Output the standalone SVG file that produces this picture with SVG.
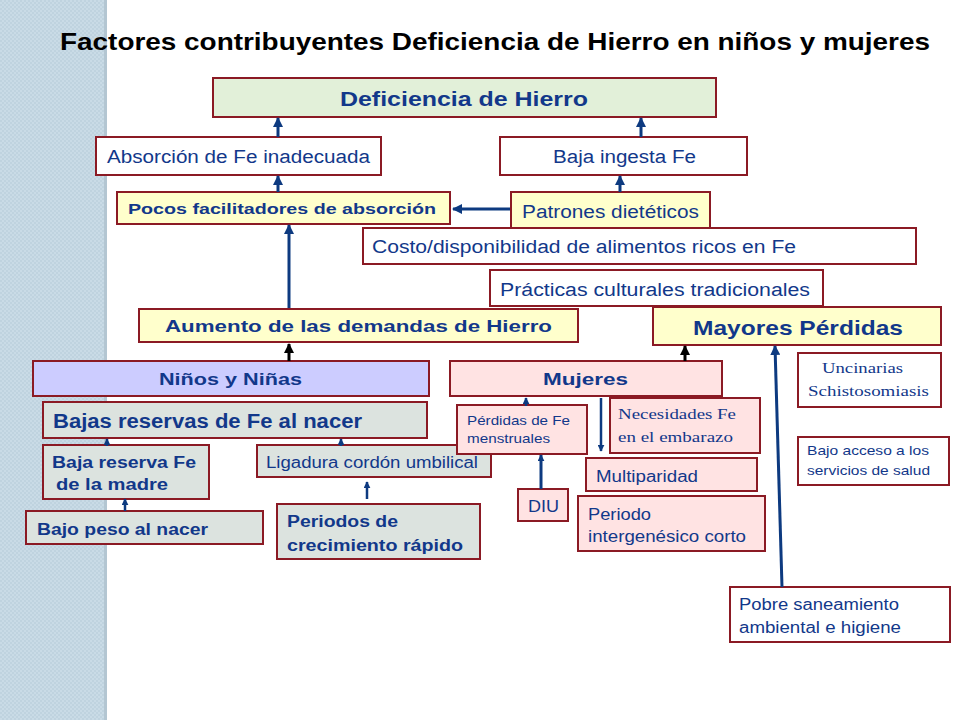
<svg xmlns="http://www.w3.org/2000/svg" width="960" height="720" viewBox="0 0 960 720">
<defs>
<pattern id="tex" width="4" height="4" patternUnits="userSpaceOnUse">
<rect width="4" height="4" fill="#c9dbe6"/>
<rect width="2" height="2" fill="#bfd3df"/>
<rect x="2" y="2" width="2" height="2" fill="#bfd3df"/>
</pattern>
<marker id="ab" viewBox="0 0 10 10" refX="9" refY="5" markerWidth="10" markerHeight="10" markerUnits="userSpaceOnUse" orient="auto">
<path d="M0,0 L10,5 L0,10 Z" fill="#0d3a80"/>
</marker>
<marker id="abs" viewBox="0 0 10 10" refX="9" refY="5" markerWidth="7" markerHeight="7" markerUnits="userSpaceOnUse" orient="auto">
<path d="M0,0 L10,5 L0,10 Z" fill="#0d3a80"/>
</marker>
<marker id="ak" viewBox="0 0 10 10" refX="9" refY="5" markerWidth="10" markerHeight="10" markerUnits="userSpaceOnUse" orient="auto">
<path d="M0,0 L10,5 L0,10 Z" fill="#000"/>
</marker>
<style>
.n{stroke:#8b1a24;stroke-width:2}
.t{fill:#12388a;font-family:"Liberation Sans",Arial,sans-serif}
.b{font-weight:bold}
.s{font-family:"Liberation Serif","Times New Roman",serif}
.w{fill:#ffffff}
.y{fill:#ffffcc}
.g{fill:#dce3df}
.p{fill:#ffe3e3}
.c{stroke:#0d3a80;stroke-width:3;fill:none}
.cs{stroke:#0d3a80;stroke-width:2.5;fill:none}
.ck{stroke:#000;stroke-width:3;fill:none}
</style>
</defs>
<rect width="960" height="720" fill="#ffffff"/>
<rect x="0" y="0" width="107" height="720" fill="url(#tex)"/>
<rect x="104" y="0" width="3" height="720" fill="#b3c6d2"/>
<text x="60" y="50" font-family="Liberation Sans,Arial,sans-serif" font-weight="bold" font-size="24" fill="#000" textLength="870" lengthAdjust="spacingAndGlyphs">Factores contribuyentes Deficiencia de Hierro en niños y mujeres</text>

<g id="n-deficiencia"><rect class="n" x="213" y="78" width="503" height="39" fill="#e2f0d9" stroke-width="3"/><text class="t b" x="340" y="106" font-size="21" textLength="248" lengthAdjust="spacingAndGlyphs">Deficiencia de Hierro</text></g>
<g id="n-absorcion"><rect class="n w" x="96" y="137" width="285" height="38"/><text class="t" x="107" y="163" font-size="18" textLength="263" lengthAdjust="spacingAndGlyphs">Absorción de Fe inadecuada</text></g>
<g id="n-baja-ingesta"><rect class="n w" x="500" y="137" width="247" height="38"/><text class="t" x="553" y="163" font-size="18" textLength="143" lengthAdjust="spacingAndGlyphs">Baja ingesta Fe</text></g>
<g id="n-pocos"><rect class="n y" x="117" y="192" width="333" height="32"/><text class="t b" x="128" y="214" font-size="15" textLength="308" lengthAdjust="spacingAndGlyphs">Pocos  facilitadores de absorción</text></g>
<g id="n-patrones"><rect class="n y" x="511" y="192" width="199" height="36"/><text class="t" x="522" y="218" font-size="18" textLength="177" lengthAdjust="spacingAndGlyphs">Patrones dietéticos</text></g>
<g id="n-costo"><rect class="n w" x="363" y="228" width="553" height="36"/><text class="t" x="372" y="253" font-size="18" textLength="424" lengthAdjust="spacingAndGlyphs">Costo/disponibilidad de alimentos ricos en Fe</text></g>
<g id="n-practicas"><rect class="n w" x="490" y="270" width="333" height="36"/><text class="t" x="500" y="296" font-size="18" textLength="310" lengthAdjust="spacingAndGlyphs">Prácticas  culturales tradicionales</text></g>
<g id="n-aumento"><rect class="n y" x="139" y="309" width="439" height="33" stroke-width="4"/><text class="t b" x="165" y="332" font-size="17" textLength="387" lengthAdjust="spacingAndGlyphs">Aumento de las demandas de Hierro</text></g>
<g id="n-mayores"><rect class="n y" x="653" y="307" width="288" height="38" stroke-width="4"/><text class="t b" x="693" y="335" font-size="21" textLength="210" lengthAdjust="spacingAndGlyphs">Mayores Pérdidas</text></g>
<g id="n-ninos"><rect class="n" x="33" y="361" width="396" height="35" fill="#ccccff" stroke-width="1.5"/><text class="t b" x="159" y="385" font-size="17" textLength="143" lengthAdjust="spacingAndGlyphs">Niños y Niñas</text></g>
<g id="n-mujeres"><rect class="n p" x="450" y="361" width="272" height="35" stroke-width="1.5"/><text class="t b" x="543" y="385" font-size="17" textLength="85" lengthAdjust="spacingAndGlyphs">Mujeres</text></g>
<g id="n-bajas-reservas"><rect class="n g" x="43" y="402" width="384" height="36" stroke-width="1.5"/><text class="t b" x="53" y="428" font-size="20" textLength="309" lengthAdjust="spacingAndGlyphs">Bajas reservas de Fe al nacer</text></g>
<g id="n-baja-reserva-madre"><rect class="n g" x="43" y="445" width="166" height="54" stroke-width="1.5"/><text class="t b" x="52" y="468" font-size="16" textLength="144" lengthAdjust="spacingAndGlyphs">Baja reserva Fe</text><text class="t b" x="56" y="490" font-size="16" textLength="112" lengthAdjust="spacingAndGlyphs">de la madre</text></g>
<g id="n-ligadura"><rect class="n g" x="257" y="445" width="234" height="32" stroke-width="1.5"/><text class="t" x="266" y="468" font-size="16" textLength="212" lengthAdjust="spacingAndGlyphs">Ligadura cordón umbilical</text></g>
<g id="n-bajo-peso"><rect class="n g" x="26" y="511" width="237" height="33" stroke-width="1.5"/><text class="t b" x="37" y="535" font-size="16" textLength="171" lengthAdjust="spacingAndGlyphs">Bajo peso al nacer</text></g>
<g id="n-periodos"><rect class="n g" x="277" y="504" width="203" height="55" stroke-width="1.5"/><text class="t b" x="287" y="527" font-size="16" textLength="111" lengthAdjust="spacingAndGlyphs">Periodos de</text><text class="t b" x="287" y="551" font-size="16" textLength="176" lengthAdjust="spacingAndGlyphs">crecimiento rápido</text></g>
<g id="n-perdidas"><rect class="n p" x="457" y="405" width="130" height="49" stroke-width="1.5"/><text class="t" x="467" y="425" font-size="13" textLength="103" lengthAdjust="spacingAndGlyphs">Pérdidas de Fe</text><text class="t" x="467" y="443" font-size="13" textLength="83" lengthAdjust="spacingAndGlyphs">menstruales</text></g>
<g id="n-necesidades"><rect class="n p" x="610" y="398" width="150" height="55" stroke-width="1.5"/><text class="t s" x="618" y="419" font-size="15" textLength="118" lengthAdjust="spacingAndGlyphs">Necesidades Fe</text><text class="t s" x="618" y="442" font-size="15" textLength="115" lengthAdjust="spacingAndGlyphs">en el embarazo</text></g>
<g id="n-multiparidad"><rect class="n p" x="586" y="458" width="171" height="33" stroke-width="1.5"/><text class="t" x="596" y="482" font-size="16" textLength="102" lengthAdjust="spacingAndGlyphs">Multiparidad</text></g>
<g id="n-diu"><rect class="n p" x="518" y="489" width="50" height="32" stroke-width="1.5"/><text class="t" x="528" y="512" font-size="16" textLength="31" lengthAdjust="spacingAndGlyphs">DIU</text></g>
<g id="n-periodo-intergenesico"><rect class="n p" x="578" y="496" width="187" height="55" stroke-width="1.5"/><text class="t" x="588" y="520" font-size="16" textLength="63" lengthAdjust="spacingAndGlyphs">Periodo</text><text class="t" x="588" y="542" font-size="16" textLength="158" lengthAdjust="spacingAndGlyphs">intergenésico corto</text></g>
<g id="n-uncinarias"><rect class="n w" x="798" y="353" width="143" height="54" stroke-width="1.5"/><text class="t s" x="822" y="373" font-size="15" textLength="81" lengthAdjust="spacingAndGlyphs">Uncinarias</text><text class="t s" x="808" y="396" font-size="15" textLength="121" lengthAdjust="spacingAndGlyphs">Schistosomiasis</text></g>
<g id="n-bajo-acceso"><rect class="n w" x="798" y="437" width="151" height="48" stroke-width="1.5"/><text class="t" x="807" y="455" font-size="13" textLength="122" lengthAdjust="spacingAndGlyphs">Bajo acceso a los</text><text class="t" x="807" y="475" font-size="13" textLength="123" lengthAdjust="spacingAndGlyphs">servicios de salud</text></g>
<g id="n-pobre"><rect class="n w" x="730" y="587" width="220" height="55" stroke-width="1.5"/><text class="t" x="739" y="610" font-size="16" textLength="160" lengthAdjust="spacingAndGlyphs">Pobre saneamiento</text><text class="t" x="739" y="633" font-size="16" textLength="162" lengthAdjust="spacingAndGlyphs">ambiental e higiene</text></g>

<g id="connectors">
<line class="c" x1="278" y1="137" x2="278" y2="118" marker-end="url(#ab)"/>
<line class="c" x1="641" y1="137" x2="641" y2="118" marker-end="url(#ab)"/>
<line class="c" x1="278" y1="192" x2="278" y2="176" marker-end="url(#ab)"/>
<line class="c" x1="620" y1="192" x2="620" y2="176" marker-end="url(#ab)"/>
<line class="c" x1="510" y1="209" x2="453" y2="209" marker-end="url(#ab)"/>
<line class="c" x1="289" y1="308" x2="289" y2="225" marker-end="url(#ab)"/>
<line class="ck" x1="289" y1="361" x2="289" y2="344" marker-end="url(#ak)"/>
<line class="ck" x1="685" y1="361" x2="685" y2="346" marker-end="url(#ak)"/>
<line class="c" x1="782" y1="587" x2="775" y2="346" marker-end="url(#ab)"/>
<line class="cs" x1="107" y1="446" x2="107" y2="439" marker-end="url(#abs)"/>
<line class="cs" x1="341" y1="446" x2="341" y2="439" marker-end="url(#abs)"/>
<line class="cs" x1="125" y1="511" x2="125" y2="499" marker-end="url(#abs)"/>
<line class="cs" x1="367" y1="499" x2="367" y2="482" marker-end="url(#abs)"/>
<line class="cs" x1="526" y1="406" x2="526" y2="398" marker-end="url(#abs)"/>
<line class="c" x1="541" y1="489" x2="541" y2="455" marker-end="url(#abs)"/>
<line class="cs" x1="601" y1="398" x2="601" y2="451" marker-end="url(#abs)"/>
</g>
</svg>
